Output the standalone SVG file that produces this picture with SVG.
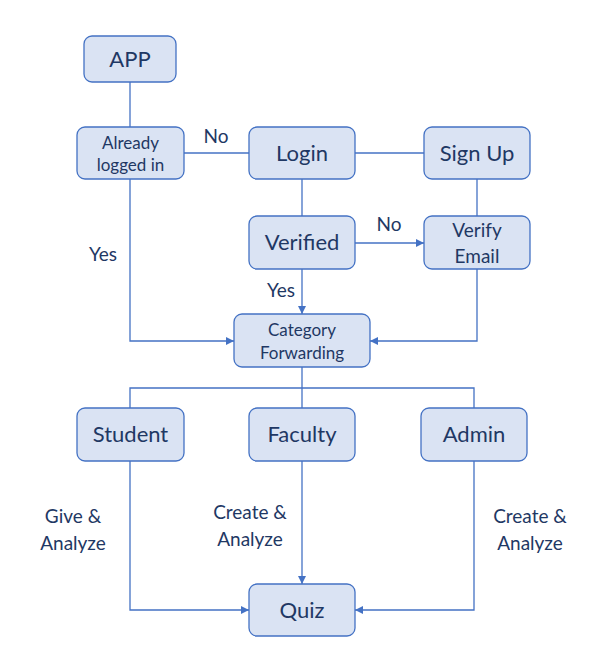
<svg xmlns="http://www.w3.org/2000/svg" width="612" height="672" viewBox="0 0 612 672">
<style>
.box{fill:#dae3f3;stroke:#4472c4;stroke-width:1.3}
.t{font-family:Lato,"Liberation Sans",sans-serif;fill:#1f3864;text-anchor:middle}
.big{font-size:22px}
.mid{font-size:19px}
.sm{font-size:17px}
.c{fill:none;stroke:#4472c4;stroke-width:1.3}
</style>
<defs>
<marker id="ah" viewBox="0 0 10 10" refX="10" refY="5" markerWidth="8" markerHeight="8" markerUnits="userSpaceOnUse" orient="auto">
<path d="M0,0 L10,5 L0,10 z" fill="#4472c4"/>
</marker>
</defs>
<rect width="612" height="672" fill="#fff"/>
<g id="connectors">
<path class="c" d="M130,82 V127"/>
<path class="c" d="M184,153 H249"/>
<path class="c" d="M355,153 H424"/>
<path class="c" d="M302,179 V216"/>
<path class="c" d="M477,179 V216"/>
<path class="c" d="M355,243 H424" marker-end="url(#ah)"/>
<path class="c" d="M302,269 V314" marker-end="url(#ah)"/>
<path class="c" d="M130,179 V341 H234" marker-end="url(#ah)"/>
<path class="c" d="M477,269 V341 H370" marker-end="url(#ah)"/>
<path class="c" d="M302,367 V408"/>
<path class="c" d="M130,408 V388 H474 V408"/>
<path class="c" d="M130,461 V610 H249" marker-end="url(#ah)"/>
<path class="c" d="M302,461 V584" marker-end="url(#ah)"/>
<path class="c" d="M474,461 V610 H355" marker-end="url(#ah)"/>
<text class="t mid" x="216" y="143">No</text>
<text class="t mid" x="389" y="231">No</text>
<text class="t mid" x="103" y="261">Yes</text>
<text class="t mid" x="281" y="297">Yes</text>
<text class="t mid" x="73" y="523">Give &amp;</text>
<text class="t mid" x="73" y="550">Analyze</text>
<text class="t mid" x="250" y="519">Create &amp;</text>
<text class="t mid" x="250" y="546">Analyze</text>
<text class="t mid" x="530" y="523">Create &amp;</text>
<text class="t mid" x="530" y="550">Analyze</text>
</g>
<g id="app"><rect class="box" x="84" y="36" width="92" height="46" rx="8"/><text class="t big" x="130" y="67">APP</text></g>
<g id="already"><rect class="box" x="77" y="127" width="107" height="52" rx="8"/><text class="t sm" x="130.5" y="149">Already</text><text class="t sm" x="130.5" y="171">logged in</text></g>
<g id="login"><rect class="box" x="249" y="127" width="106" height="52" rx="8"/><text class="t big" x="302" y="161">Login</text></g>
<g id="signup"><rect class="box" x="424" y="127" width="106" height="52" rx="8"/><text class="t big" x="477" y="161">Sign Up</text></g>
<g id="verified"><rect class="box" x="249" y="216" width="106" height="53" rx="8"/><text class="t big" x="302" y="250">Verified</text></g>
<g id="verifyemail"><rect class="box" x="424" y="216" width="106" height="53" rx="8"/><text class="t mid" x="477" y="237">Verify</text><text class="t mid" x="477" y="263">Email</text></g>
<g id="category"><rect class="box" x="234" y="314" width="136" height="53" rx="8"/><text class="t sm" x="302" y="336">Category</text><text class="t sm" x="302" y="359">Forwarding</text></g>
<g id="student"><rect class="box" x="77" y="408" width="107" height="53" rx="8"/><text class="t big" x="130.5" y="442">Student</text></g>
<g id="faculty"><rect class="box" x="249" y="408" width="106" height="53" rx="8"/><text class="t big" x="302" y="442">Faculty</text></g>
<g id="admin"><rect class="box" x="421" y="408" width="106" height="53" rx="8"/><text class="t big" x="474" y="442">Admin</text></g>
<g id="quiz"><rect class="box" x="249" y="584" width="106" height="52" rx="8"/><text class="t big" x="302" y="618">Quiz</text></g>
</svg>
